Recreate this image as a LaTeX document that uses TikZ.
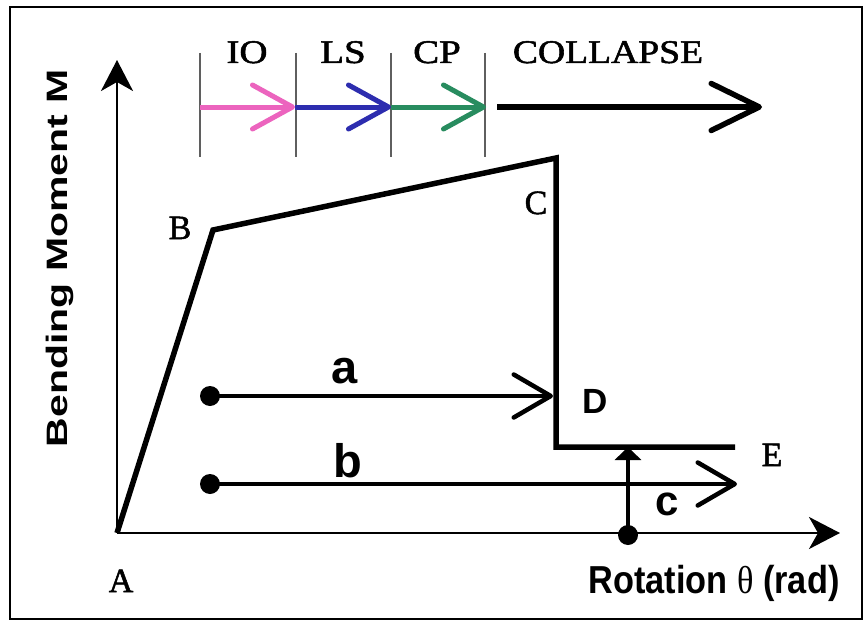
\documentclass[tikz,border=0pt]{standalone}
\usepackage{fontspec}
\setmainfont{Liberation Serif}
\setsansfont{Liberation Sans}
\newfontfamily\serlabfont{Liberation Serif}[FakeBold=1.5]
\usetikzlibrary{arrows.meta}
\definecolor{iopink}{RGB}{236,100,190}
\definecolor{lsblue}{RGB}{45,45,175}
\definecolor{cpgreen}{RGB}{40,140,95}
\definecolor{tickgray}{RGB}{95,95,95}
\tikzset{
  serlab/.style={anchor=base, inner sep=0pt, font=\serlabfont\fontsize{34}{36}\selectfont},
  toplab/.style={anchor=base, inner sep=0pt, font=\serlabfont\fontsize{33}{35}\selectfont},
  sanslab/.style={anchor=base, inner sep=0pt},
  dot/.style={circle, fill=black, inner sep=0pt, minimum size=20pt},
  curveline/.style={line width=5.5pt, line join=miter},
  axisline/.style={line width=2.5pt, -{Stealth[length=31pt,width=32pt,inset=9pt]}},
  tickline/.style={line width=1.4pt, draw=tickgray},
  stagearrow/.style={line width=5pt, -{Straight Barb[length=40pt,width=44pt,round]}},
  barbarrow/.style={line width=4.5pt, -{Straight Barb[length=37pt,width=43pt,round]}},
  uparrow/.style={line width=3.5pt, -{Triangle[length=13pt,width=26pt]}},
  frameline/.style={line width=2pt}
}
\begin{document}
\begin{tikzpicture}[x=1pt,y=-1pt]
\useasboundingbox (0,0) rectangle (865,626);
\fill[white] (0,0) rectangle (865,626);
\draw[frameline] (10,7) rectangle (862,619);

% axes
\coordinate (A) at (117,533);
\coordinate (ytip) at (117,60);
\coordinate (xtip) at (840,533);
\draw[axisline] (A) -- (ytip);
\draw[axisline] (A) -- (xtip);

% curve
\coordinate (B) at (213,230);
\coordinate (C) at (556,158);
\coordinate (D) at (556,447);
\coordinate (E) at (735,447);
\draw[curveline] (A) -- (B) -- (C) -- (D) -- (E);

% stage ticks
\foreach \n/\x in {t1/200,t2/296,t3/391,t4/485}{
  \coordinate (\n top) at (\x,53);
  \coordinate (\n bot) at (\x,157);
  \draw[tickline] (\n top) -- (\n bot);
}
\coordinate (s1) at (200,107);
\coordinate (s2) at (295,107);
\coordinate (s3) at (391,107);
\coordinate (s4) at (486,107);
\coordinate (s5) at (497,107);
\coordinate (s6) at (762,107);
\draw[stagearrow, draw=iopink] (s1) -- (s2);
\draw[stagearrow, draw=lsblue] (s2) -- (s3);
\draw[stagearrow, draw=cpgreen] (s3) -- (s4);
\draw[line width=5.5pt, -{Straight Barb[length=48pt,width=47pt,round]}] (s5) -- (s6);

% stage labels
\node[toplab] (io) at (247,63) {\scalebox{1.18}[1]{IO}};
\node[toplab] (ls) at (343,63) {\scalebox{1.18}[1]{LS}};
\node[toplab] (cp) at (437,63) {\scalebox{1.18}[1]{CP}};
\node[toplab] (col) at (608,63) {\scalebox{1.14}[1]{COLLAPSE}};

% point labels
\node[serlab] (lA) at (121,592) {A};
\node[serlab] (lB) at (180,239) {B};
\node[serlab] (lC) at (536,214) {C};
\node[serlab] (lE) at (772,466) {E};
\node[sanslab, font=\sffamily\bfseries\fontsize{35}{37}\selectfont] (lD) at (595,413) {D};

% arrow a
\node[dot] (da) at (210,396) {};
\coordinate (atip) at (553,396);
\draw[barbarrow] (da.center) -- (atip);
\node[sanslab, font=\sffamily\bfseries\fontsize{47}{49}\selectfont] (la) at (345,383) {a};

% arrow b
\node[dot] (db) at (210,484) {};
\coordinate (btip) at (737,484);
\draw[barbarrow] (db.center) -- (btip);
\node[sanslab, font=\sffamily\bfseries\fontsize{47}{49}\selectfont] (lb) at (348,477) {b};

% arrow c
\node[dot] (dc) at (628,535) {};
\coordinate (ctip) at (628,447);
\draw[uparrow] (dc.center) -- (ctip);
\node[sanslab, font=\sffamily\bfseries\fontsize{42}{44}\selectfont] (lc) at (667,515) {c};

% axis titles
\node[anchor=base, inner sep=0pt, font=\sffamily\bfseries\fontsize{39}{41}\selectfont] (xt) at (714,593)
  {\scalebox{0.88}[1]{Rotation {\rmfamily\mdseries θ} (rad)}};
\node[rotate=90, inner sep=0pt, font=\sffamily\bfseries\fontsize{41}{43}\selectfont] (yt) at (60,258)
  {\scalebox{1}[0.72]{Bending Moment M}};
\end{tikzpicture}
\end{document}
